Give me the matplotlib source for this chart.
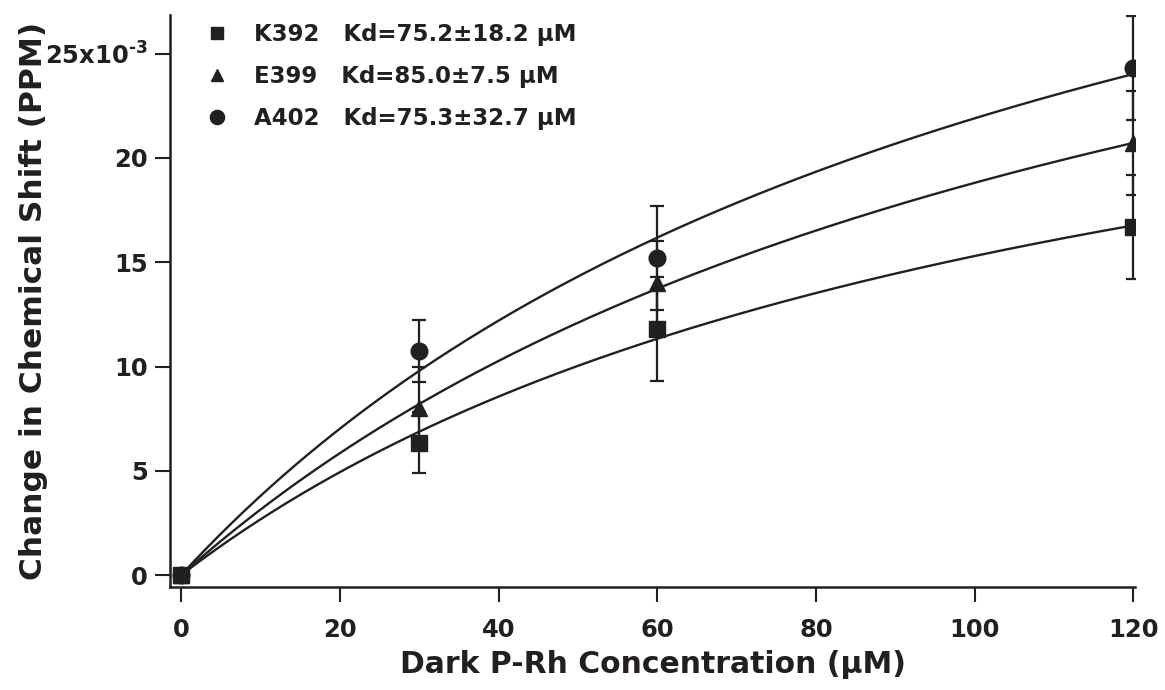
import numpy as np
import matplotlib
matplotlib.use("Agg")
import matplotlib.pyplot as plt

# ---- data (y in units of 1e-3 ppm) ----
conc = [0, 30, 60, 120]
names = ["K392", "E399", "A402"]
kd_text = ["75.2\u00b118.2", "85.0\u00b17.5", "75.3\u00b132.7"]
k392_y = [0, 6.35, 11.8, 16.7]
k392_err = [0, 1.45, 2.5, 2.5]
e399_y = [0, 8.0, 14.0, 20.7]
e399_err = [0, 2.0, 2.0, 2.5]
a402_y = [0, 10.75, 15.2, 24.3]
a402_err = [0, 1.5, 2.5, 2.5]
# fitted binding-curve parameters (apparent Bmax, K)
fit_bmax = [32.2, 42.2, 46.6]
fit_k = [110.5, 124.4, 112.8]
yticks = [0, 5, 10, 15, 20, 25]
ytick_labels = ["0", "5", "10", "15", "20", r"25x10$^{\text{-}3}$"]
xticks = [0, 20, 40, 60, 80, 100, 120]

INK = "#231f20"
plt.rcParams["font.family"] = ["DejaVu Sans"]
plt.rcParams["font.weight"] = "bold"
plt.rcParams["mathtext.default"] = "regular"

fig = plt.figure(figsize=(11.65, 6.9), dpi=100)
ax = fig.add_axes([170 / 1165, 103 / 690, 965 / 1165, 572 / 690])

series = [(k392_y, k392_err, "s", 11), (e399_y, e399_err, "^", 11), (a402_y, a402_err, "o", 12)]
xs = np.linspace(0, 120, 300)
handles = []
for i in [2, 1, 0]:
    y, err, mk, ms = series[i]
    ax.plot(xs, fit_bmax[i] * xs / (fit_k[i] + xs), color=INK, lw=1.7, zorder=2)
    ax.errorbar(conc[1:], y[1:], yerr=err[1:], fmt="none", ecolor=INK,
                elinewidth=1.6, capsize=5, capthick=1.6, zorder=3)
for i in [2, 1, 0]:
    y, err, mk, ms = series[i]
    h, = ax.plot(conc, y, linestyle="none", marker=mk, markersize=ms,
                 color=INK, zorder=4)
    handles.append(h)
handles = handles[::-1]

labels = [f"{n}   Kd={k} \u03bcM" for n, k in zip(names, kd_text)]
leg = ax.legend(handles, labels, loc="upper left", bbox_to_anchor=(0.013, 1.022),
                frameon=False, fontsize=16.5, handletextpad=1.0, labelspacing=0.82,
                handlelength=1.2, markerscale=0.85)
for t in leg.get_texts():
    t.set_color(INK)

ax.set_xlim(-1.4, 120.2)
ax.set_ylim(-0.57, 26.85)
ax.set_xticks(xticks)
ax.set_yticks(yticks)
ax.set_yticklabels(ytick_labels)
for s in ["top", "right"]:
    ax.spines[s].set_visible(False)
for s in ["left", "bottom"]:
    ax.spines[s].set_linewidth(1.8)
    ax.spines[s].set_color(INK)
ax.tick_params(axis="both", direction="out", length=11, width=1.5, color=INK,
               labelsize=17.5, labelcolor=INK)
ax.tick_params(axis="x", pad=11)
ax.tick_params(axis="y", pad=5)

ax.set_xlabel("Dark P-Rh Concentration (\u03bcM)", fontsize=21.5, fontweight="bold",
              color=INK, labelpad=6)
ax.set_ylabel("Change in Chemical Shift (PPM)", fontsize=22.5, fontweight="bold",
              color=INK)
ax.yaxis.set_label_coords(-0.126, 0.5)

fig.savefig("out.png", dpi=100)
